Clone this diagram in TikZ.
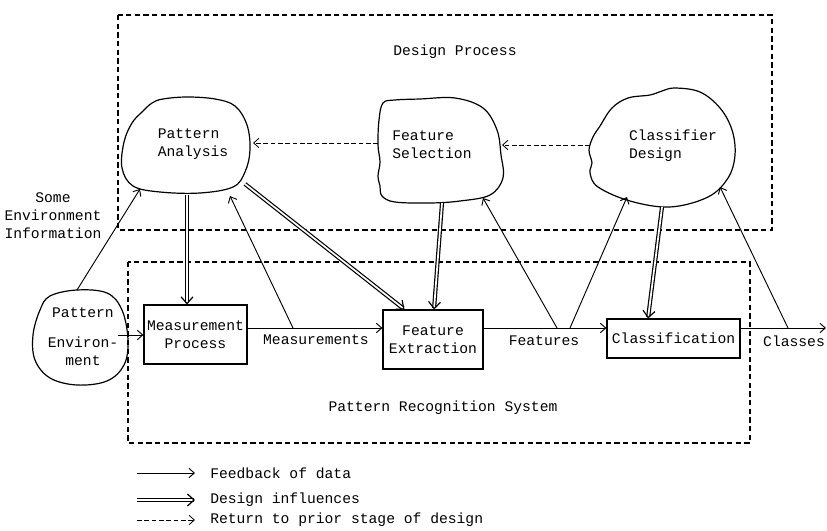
\documentclass[tikz,border=0pt]{standalone}
\usepackage{fontspec}
\setmainfont{Liberation Mono}
\usetikzlibrary{arrows.meta,calc}
\begin{document}
\begin{tikzpicture}[x=0.75pt,y=-0.75pt, font=\fontsize{11}{13.5}\selectfont,
 tipa/.style={-{Straight Barb[length=4pt,width=7pt]}},
 feed/.style={line width=0.7pt, tipa},
 infl/.style={double, double distance=1.3pt, line width=0.9pt, -{Straight Barb[length=5pt,width=9pt]}},
 ret/.style={dash pattern=on 3.5pt off 2pt, line width=0.6pt, tipa},
 region/.style={dash pattern=on 4pt off 2.5pt, line width=0.8pt},
 blob/.style={line width=0.9pt},
 stage/.style={draw, line width=0.9pt, inner sep=0pt, align=center},
 lbl/.style={inner sep=0pt, align=left},
 cl/.style={inner sep=0pt, align=center},
]
\useasboundingbox (0,0) rectangle (827,531);

% regions
\draw[region] (118,15) rectangle (772,230);
\node[lbl] (dp) at (455,52) {Design Process};
\draw[region] (128,262) rectangle (750,443);
\node[lbl] (prs) at (443,408) {Pattern Recognition System};

% clouds
\draw[blob] plot[smooth cycle, tension=0.6] coordinates {(142,112) (152,103) (163,99) (187,97) (215,99) (235,106) (247,125) (250,150) (245,172) (233,187) (200,193) (160,192) (133,186) (122,168) (124,142) (132,123)};
\node[lbl] (pa) at (193,144) {Pattern\\Analysis};

\draw[blob] plot[smooth cycle, tension=0.6] coordinates {(383,103) (395,100) (420,99) (455,98) (483,108) (497,130) (501,155) (503,178) (490,195) (460,201) (430,203) (395,202) (382,196) (380,186) (378,176) (380,162) (378,145) (379,120)};
\node[lbl] (fs) at (432,145) {Feature\\Selection};

\draw[blob] plot[smooth cycle, tension=0.6] coordinates {(600,126) (612,108) (628,98) (650,95) (662,91) (675,88) (700,92) (720,108) (732,130) (735,155) (728,178) (708,197) (670,207) (630,201) (598,187) (590,173) (592,163) (589,150) (593,137)};
\node[lbl] (cd) at (673,146) {Classifier\\Design};

\draw[blob] plot[smooth cycle, tension=0.6] coordinates {(40,310) (50,296) (77,290) (107,293) (122,310) (128,340) (124,365) (107,381) (77,385) (50,378) (35,360) (33,335)};
\node[cl] (pe) at (83,337) {Pattern\\[9pt]Environ-\\ment};

\node[cl] (sei) at (53,216) {Some\\Environment\\Information};

% stages
\node[stage, minimum width=77.25pt, minimum height=44.25pt] (mp) at (195.5,334.5) {Measurement\\Process};
\node[stage, minimum width=75pt, minimum height=44.25pt] (fe) at (433,339.5) {Feature\\Extraction};
\node[stage, minimum width=99.75pt, minimum height=29.25pt] (cls) at (673.5,338.5) {Classification};

% main flow
\coordinate (ly) at (0,328);
\coordinate (out) at (826,328);
\draw[feed] (pe.east |- 0,335) -- (mp.west |- 0,335);
\draw[feed] (mp.east |- ly) -- (fe.west |- ly);
\draw[feed] (fe.east |- ly) -- (cls.west |- ly);
\draw[feed] (cls.east |- ly) -- (out);
\node[lbl] (meas) at (316,340) {Measurements};
\node[lbl] (feat) at (544,341) {Features};
\node[lbl] (clas) at (794,341) {Classes};

% feedback of data
\coordinate (m1) at (293,328);
\coordinate (f1) at (557,328);
\coordinate (f2) at (570,328);
\coordinate (c1) at (788,328);
\draw[feed] ($(pe)+(-6,-47)$) -- ($(pa)+(-53,45)$);
\draw[feed] (m1) -- ($(pa)+(37,52)$);
\draw[feed] (f1) -- ($(fs)+(51,53)$);
\draw[feed] (f2) -- ($(cd)+(-46,51)$);
\draw[feed] (c1) -- ($(cd)+(47,41)$);

% design influences
\draw[infl] ($(pa)+(-6,51)$) -- ($(mp.north)+(-8.5,0)$);
\draw[infl] ($(pa)+(52,40)$) -- ($(fe.north west)+(22,0)$);
\draw[infl] ($(fs)+(10,58)$) -- ($(fe.north)+(1,0)$);
\draw[infl] ($(cd)+(-11,61)$) -- ($(cls.north)+(-25.5,0)$);

% return to prior stage
\draw[ret] ($(fs)+(-54,-2)$) -- ($(pa)+(60,-1)$);
\draw[ret] ($(cd)+(-83,-1)$) -- ($(fs)+(70,0)$);

% legend
\coordinate (la1) at (137,473); \coordinate (lb1) at (195,473);
\coordinate (la2) at (137,500); \coordinate (lb2) at (195,500);
\coordinate (la3) at (137,520); \coordinate (lb3) at (195,520);
\draw[feed] (la1) -- (lb1);
\draw[infl] (la2) -- (lb2);
\draw[ret] (la3) -- (lb3);
\node[lbl, anchor=west] (t1) at (210,473) {Feedback of data};
\node[lbl, anchor=west] (t2) at (210,500) {Design influences};
\node[lbl, anchor=west] (t3) at (210,520) {Return to prior stage of design};
\end{tikzpicture}
\end{document}
